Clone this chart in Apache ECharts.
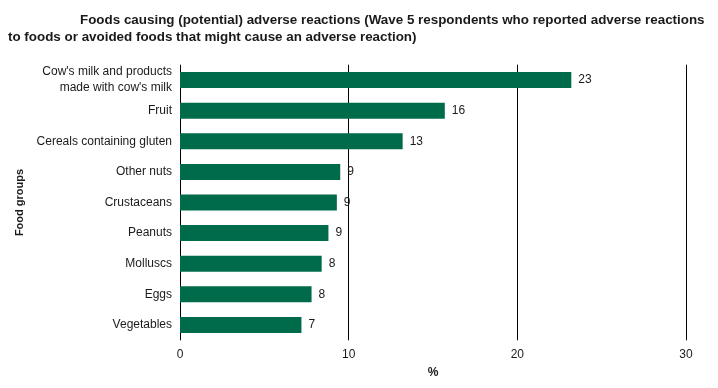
<!DOCTYPE html>
<html><head><meta charset="utf-8">
<script src="https://cdn.jsdelivr.net/npm/echarts@6/dist/echarts.min.js"></script>
<style>html,body{margin:0;padding:0;background:#fff}#c{width:718px;height:388px}</style>
</head><body><div id="c"></div>
<script>
const categories = ["Cow's milk and products\nmade with cow's milk","Fruit","Cereals containing gluten","Other nuts","Crustaceans","Peanuts","Molluscs","Eggs","Vegetables"];
const values = [23.2, 15.7, 13.2, 9.5, 9.3, 8.8, 8.4, 7.8, 7.2];
const valueLabels = ["23","16","13","9","9","9","8","8","7"];
const xTicks = [0, 10, 20, 30];
const titleLine1 = "Foods causing (potential) adverse reactions (Wave 5 respondents who reported adverse reactions";
const titleLine2 = "to foods or avoided foods that might cause an adverse reaction)";

const font = "Liberation Sans, Arial, sans-serif";
const chart = echarts.init(document.getElementById('c'), null, {renderer:'canvas'});
chart.setOption({
  animation:false,
  backgroundColor:'#fff',
  title:[
    {text:titleLine1,left:75,top:9,textStyle:{fontFamily:font,fontSize:13.4,fontWeight:'bold',color:'#1a1a1a'}},
    {text:titleLine2,left:3,top:26,textStyle:{fontFamily:font,fontSize:13.4,fontWeight:'bold',color:'#1a1a1a'}}
  ],
  grid:{left:180,right:32,top:64.7,bottom:47.7,containLabel:false},
  xAxis:{type:'value',min:xTicks[0],max:xTicks[xTicks.length-1],interval:10,
    name:'%',nameLocation:'middle',nameGap:26,
    nameTextStyle:{fontFamily:font,fontSize:12,fontWeight:'bold',color:'#1a1a1a'},
    axisLine:{show:false},
    axisTick:{show:false},
    axisLabel:{fontFamily:font,fontSize:12,color:'#1a1a1a',margin:8},
    splitLine:{show:true,lineStyle:{color:'#000',width:1}}
  },
  yAxis:{type:'category',data:categories,inverse:true,
    name:'Food groups',nameLocation:'middle',nameGap:152,
    nameTextStyle:{fontFamily:font,fontSize:11,fontWeight:'bold',color:'#1a1a1a'},
    axisLine:{show:false},axisTick:{show:false},
    axisLabel:{fontFamily:font,fontSize:12,color:'#1a1a1a',margin:8,lineHeight:16}
  },
  series:[{type:'bar',data:values,barWidth:16,
    itemStyle:{color:'#006B4B'},
    label:{show:true,position:'right',distance:7,fontFamily:font,fontSize:12,color:'#1a1a1a',
      formatter:p=>valueLabels[p.dataIndex]}
  }]
});
</script></body></html>
